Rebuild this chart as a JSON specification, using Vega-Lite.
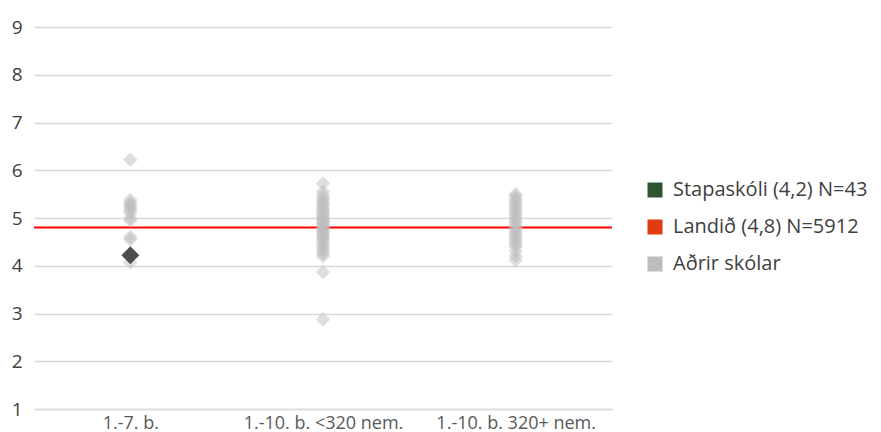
{
  "$schema": "https://vega.github.io/schema/vega-lite/v6.json",
  "autosize": "none",
  "width": 578,
  "height": 382,
  "padding": {"left": 34, "top": 27, "right": 269, "bottom": 23},
  "background": "white",
  "config": {
    "font": "Open Sans",
    "view": {"stroke": null},
    "axis": {"labelFont": "Open Sans", "labelColor": "#404040"}
  },
  "datasets": {
    "schools": [
      {"flokkur": "1.-7. b.", "gildi": 6.22, "hopur": "Aðrir skólar"},
      {"flokkur": "1.-7. b.", "gildi": 5.38, "hopur": "Aðrir skólar"},
      {"flokkur": "1.-7. b.", "gildi": 5.32, "hopur": "Aðrir skólar"},
      {"flokkur": "1.-7. b.", "gildi": 5.28, "hopur": "Aðrir skólar"},
      {"flokkur": "1.-7. b.", "gildi": 5.24, "hopur": "Aðrir skólar"},
      {"flokkur": "1.-7. b.", "gildi": 5.2, "hopur": "Aðrir skólar"},
      {"flokkur": "1.-7. b.", "gildi": 5.15, "hopur": "Aðrir skólar"},
      {"flokkur": "1.-7. b.", "gildi": 5.1, "hopur": "Aðrir skólar"},
      {"flokkur": "1.-7. b.", "gildi": 5.0, "hopur": "Aðrir skólar"},
      {"flokkur": "1.-7. b.", "gildi": 4.95, "hopur": "Aðrir skólar"},
      {"flokkur": "1.-7. b.", "gildi": 4.6, "hopur": "Aðrir skólar"},
      {"flokkur": "1.-7. b.", "gildi": 4.55, "hopur": "Aðrir skólar"},
      {"flokkur": "1.-7. b.", "gildi": 4.07, "hopur": "Aðrir skólar"},
      {"flokkur": "1.-10. b. <320 nem.", "gildi": 5.72, "hopur": "Aðrir skólar"},
      {"flokkur": "1.-10. b. <320 nem.", "gildi": 5.55, "hopur": "Aðrir skólar"},
      {"flokkur": "1.-10. b. <320 nem.", "gildi": 5.48, "hopur": "Aðrir skólar"},
      {"flokkur": "1.-10. b. <320 nem.", "gildi": 5.42, "hopur": "Aðrir skólar"},
      {"flokkur": "1.-10. b. <320 nem.", "gildi": 5.38, "hopur": "Aðrir skólar"},
      {"flokkur": "1.-10. b. <320 nem.", "gildi": 5.33, "hopur": "Aðrir skólar"},
      {"flokkur": "1.-10. b. <320 nem.", "gildi": 5.3, "hopur": "Aðrir skólar"},
      {"flokkur": "1.-10. b. <320 nem.", "gildi": 5.25, "hopur": "Aðrir skólar"},
      {"flokkur": "1.-10. b. <320 nem.", "gildi": 5.2, "hopur": "Aðrir skólar"},
      {"flokkur": "1.-10. b. <320 nem.", "gildi": 5.17, "hopur": "Aðrir skólar"},
      {"flokkur": "1.-10. b. <320 nem.", "gildi": 5.12, "hopur": "Aðrir skólar"},
      {"flokkur": "1.-10. b. <320 nem.", "gildi": 5.08, "hopur": "Aðrir skólar"},
      {"flokkur": "1.-10. b. <320 nem.", "gildi": 5.04, "hopur": "Aðrir skólar"},
      {"flokkur": "1.-10. b. <320 nem.", "gildi": 5.0, "hopur": "Aðrir skólar"},
      {"flokkur": "1.-10. b. <320 nem.", "gildi": 4.97, "hopur": "Aðrir skólar"},
      {"flokkur": "1.-10. b. <320 nem.", "gildi": 4.93, "hopur": "Aðrir skólar"},
      {"flokkur": "1.-10. b. <320 nem.", "gildi": 4.9, "hopur": "Aðrir skólar"},
      {"flokkur": "1.-10. b. <320 nem.", "gildi": 4.87, "hopur": "Aðrir skólar"},
      {"flokkur": "1.-10. b. <320 nem.", "gildi": 4.83, "hopur": "Aðrir skólar"},
      {"flokkur": "1.-10. b. <320 nem.", "gildi": 4.8, "hopur": "Aðrir skólar"},
      {"flokkur": "1.-10. b. <320 nem.", "gildi": 4.77, "hopur": "Aðrir skólar"},
      {"flokkur": "1.-10. b. <320 nem.", "gildi": 4.73, "hopur": "Aðrir skólar"},
      {"flokkur": "1.-10. b. <320 nem.", "gildi": 4.7, "hopur": "Aðrir skólar"},
      {"flokkur": "1.-10. b. <320 nem.", "gildi": 4.66, "hopur": "Aðrir skólar"},
      {"flokkur": "1.-10. b. <320 nem.", "gildi": 4.62, "hopur": "Aðrir skólar"},
      {"flokkur": "1.-10. b. <320 nem.", "gildi": 4.58, "hopur": "Aðrir skólar"},
      {"flokkur": "1.-10. b. <320 nem.", "gildi": 4.54, "hopur": "Aðrir skólar"},
      {"flokkur": "1.-10. b. <320 nem.", "gildi": 4.5, "hopur": "Aðrir skólar"},
      {"flokkur": "1.-10. b. <320 nem.", "gildi": 4.45, "hopur": "Aðrir skólar"},
      {"flokkur": "1.-10. b. <320 nem.", "gildi": 4.4, "hopur": "Aðrir skólar"},
      {"flokkur": "1.-10. b. <320 nem.", "gildi": 4.35, "hopur": "Aðrir skólar"},
      {"flokkur": "1.-10. b. <320 nem.", "gildi": 4.3, "hopur": "Aðrir skólar"},
      {"flokkur": "1.-10. b. <320 nem.", "gildi": 4.25, "hopur": "Aðrir skólar"},
      {"flokkur": "1.-10. b. <320 nem.", "gildi": 4.2, "hopur": "Aðrir skólar"},
      {"flokkur": "1.-10. b. <320 nem.", "gildi": 3.87, "hopur": "Aðrir skólar"},
      {"flokkur": "1.-10. b. <320 nem.", "gildi": 2.88, "hopur": "Aðrir skólar"},
      {"flokkur": "1.-10. b. 320+ nem.", "gildi": 5.5, "hopur": "Aðrir skólar"},
      {"flokkur": "1.-10. b. 320+ nem.", "gildi": 5.45, "hopur": "Aðrir skólar"},
      {"flokkur": "1.-10. b. 320+ nem.", "gildi": 5.4, "hopur": "Aðrir skólar"},
      {"flokkur": "1.-10. b. 320+ nem.", "gildi": 5.35, "hopur": "Aðrir skólar"},
      {"flokkur": "1.-10. b. 320+ nem.", "gildi": 5.3, "hopur": "Aðrir skólar"},
      {"flokkur": "1.-10. b. 320+ nem.", "gildi": 5.25, "hopur": "Aðrir skólar"},
      {"flokkur": "1.-10. b. 320+ nem.", "gildi": 5.2, "hopur": "Aðrir skólar"},
      {"flokkur": "1.-10. b. 320+ nem.", "gildi": 5.15, "hopur": "Aðrir skólar"},
      {"flokkur": "1.-10. b. 320+ nem.", "gildi": 5.1, "hopur": "Aðrir skólar"},
      {"flokkur": "1.-10. b. 320+ nem.", "gildi": 5.05, "hopur": "Aðrir skólar"},
      {"flokkur": "1.-10. b. 320+ nem.", "gildi": 5.0, "hopur": "Aðrir skólar"},
      {"flokkur": "1.-10. b. 320+ nem.", "gildi": 4.95, "hopur": "Aðrir skólar"},
      {"flokkur": "1.-10. b. 320+ nem.", "gildi": 4.9, "hopur": "Aðrir skólar"},
      {"flokkur": "1.-10. b. 320+ nem.", "gildi": 4.85, "hopur": "Aðrir skólar"},
      {"flokkur": "1.-10. b. 320+ nem.", "gildi": 4.8, "hopur": "Aðrir skólar"},
      {"flokkur": "1.-10. b. 320+ nem.", "gildi": 4.75, "hopur": "Aðrir skólar"},
      {"flokkur": "1.-10. b. 320+ nem.", "gildi": 4.7, "hopur": "Aðrir skólar"},
      {"flokkur": "1.-10. b. 320+ nem.", "gildi": 4.65, "hopur": "Aðrir skólar"},
      {"flokkur": "1.-10. b. 320+ nem.", "gildi": 4.6, "hopur": "Aðrir skólar"},
      {"flokkur": "1.-10. b. 320+ nem.", "gildi": 4.55, "hopur": "Aðrir skólar"},
      {"flokkur": "1.-10. b. 320+ nem.", "gildi": 4.5, "hopur": "Aðrir skólar"},
      {"flokkur": "1.-10. b. 320+ nem.", "gildi": 4.45, "hopur": "Aðrir skólar"},
      {"flokkur": "1.-10. b. 320+ nem.", "gildi": 4.4, "hopur": "Aðrir skólar"},
      {"flokkur": "1.-10. b. 320+ nem.", "gildi": 4.3, "hopur": "Aðrir skólar"},
      {"flokkur": "1.-10. b. 320+ nem.", "gildi": 4.2, "hopur": "Aðrir skólar"},
      {"flokkur": "1.-10. b. 320+ nem.", "gildi": 4.12, "hopur": "Aðrir skólar"},
      {"flokkur": "1.-7. b.", "gildi": 4.22, "hopur": "Stapaskóli"}
    ],
    "land": [{"gildi": 4.8}]
  },
  "encoding": {
    "x": {
      "field": "flokkur",
      "type": "nominal",
      "sort": ["1.-7. b.", "1.-10. b. <320 nem.", "1.-10. b. 320+ nem."],
      "scale": {"type": "point", "padding": 0.5},
      "axis": {
        "title": null,
        "labelAngle": 0,
        "labelFontSize": 18,
        "labelColor": "#595959",
        "labelPadding": 5,
        "ticks": false,
        "domain": true,
        "domainColor": "#d9d9d9",
        "domainWidth": 1.5,
        "grid": false
      }
    },
    "y": {
      "field": "gildi",
      "type": "quantitative",
      "scale": {"domain": [1, 9], "nice": false, "zero": false},
      "axis": {
        "title": null,
        "values": [1, 2, 3, 4, 5, 6, 7, 8, 9],
        "labelFontSize": 19,
        "labelColor": "#404040",
        "labelPadding": 12,
        "ticks": false,
        "domain": false,
        "grid": true,
        "gridColor": "#d9d9d9",
        "gridWidth": 1.5
      }
    }
  },
  "layer": [
    {
      "data": {"name": "land"},
      "mark": {"type": "rule", "color": "#ff0000", "strokeWidth": 2},
      "encoding": {"x": null, "y": {"field": "gildi", "type": "quantitative"}}
    },
    {
      "data": {"name": "schools"},
      "transform": [{"filter": "datum.hopur === 'Aðrir skólar'"}],
      "mark": {"type": "point", "shape": "diamond", "filled": true, "size": 210, "opacity": 0.5},
      "encoding": {
        "color": {
          "field": "hopur",
          "type": "nominal",
          "scale": {
            "domain": ["Stapaskóli (4,2) N=43", "Landið (4,8) N=5912", "Aðrir skólar"],
            "range": ["#2e5430", "#e03c14", "#bdbdbd"]
          },
          "legend": {
            "title": null,
            "orient": "none",
            "legendX": 611,
            "legendY": 153,
            "symbolType": "square",
            "symbolSize": 225,
            "symbolOpacity": 1,
            "symbolStrokeWidth": 0,
            "labelFontSize": 20,
            "labelColor": "#404040",
            "labelFont": "Open Sans",
            "labelOffset": 8,
            "rowPadding": 17,
            "labelLimit": 300
          }
        }
      }
    },
    {
      "data": {"name": "schools"},
      "transform": [{"filter": "datum.hopur === 'Stapaskóli'"}],
      "mark": {"type": "point", "shape": "diamond", "filled": true, "size": 320, "color": "#4d4d4d", "opacity": 1}
    }
  ]
}
